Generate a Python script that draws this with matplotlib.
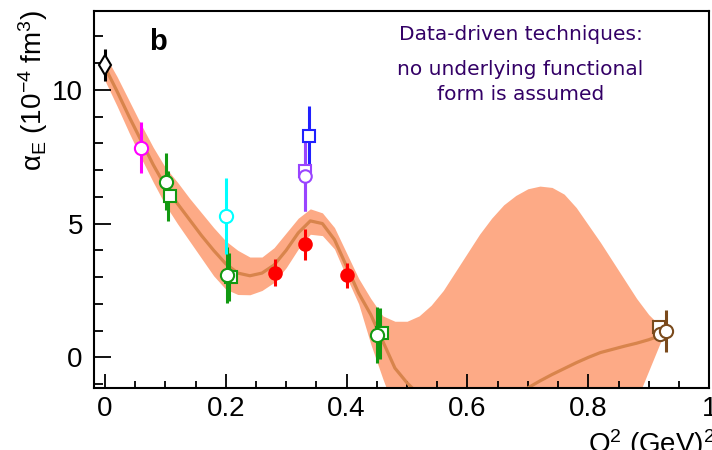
import numpy as np
from matplotlib import pyplot as plt
from matplotlib.ticker import MultipleLocator

plt.rcParams['font.family'] = ['Liberation Sans', 'DejaVu Sans']

# band + central curve
band_x = [0.00, 0.02, 0.04, 0.06, 0.08, 0.10, 0.12, 0.14, 0.16, 0.18,
          0.20, 0.22, 0.24, 0.26, 0.28, 0.30, 0.32, 0.34, 0.36, 0.38,
          0.40, 0.42, 0.44, 0.46, 0.48, 0.50, 0.52, 0.54, 0.56, 0.58,
          0.60, 0.62, 0.64, 0.66, 0.68, 0.70, 0.72, 0.74, 0.76, 0.78,
          0.80, 0.82, 0.84, 0.86, 0.88, 0.90, 0.92, 0.925]
band_hi = [11.3, 10.5, 9.6, 8.7, 7.85, 7.1, 6.55, 5.95, 5.4, 4.85,
           4.35, 4.0, 3.75, 3.75, 4.1, 4.65, 5.2, 5.55, 5.4, 4.85,
           3.9, 2.95, 2.2, 1.55, 1.35, 1.35, 1.55, 1.95, 2.5, 3.2,
           3.9, 4.6, 5.2, 5.7, 6.05, 6.3, 6.4, 6.35, 6.1, 5.6,
           4.95, 4.3, 3.6, 2.9, 2.2, 1.6, 1.15, 0.95]
band_lo = [10.35, 9.4, 8.4, 7.45, 6.55, 5.7, 5.0, 4.35, 3.7, 3.05,
           2.55, 2.35, 2.34, 2.5, 2.8, 3.35, 4.05, 4.6, 4.55, 4.05,
           3.0, 2.0, 0.5, -0.8, -2.0, -3.0, -3.5, -3.8, -4.0, -4.2,
           -4.3, -4.4, -4.4, -4.4, -4.4, -4.3, -4.2, -4.1, -4.0, -3.9,
           -3.8, -3.6, -3.4, -3.0, -1.6, -0.5, 0.6, 0.95]
central = [10.85, 9.95, 9.0, 8.1, 7.2, 6.4, 5.75, 5.15, 4.55, 4.0,
           3.5, 3.15, 3.05, 3.15, 3.45, 4.0, 4.65, 5.1, 5.0, 4.4,
           3.4, 2.4, 1.6, 0.6, -0.4, -0.95, -1.4, -1.8, -2.2, -2.45,
           -2.6, -2.6, -2.5, -2.2, -1.8, -1.14, -0.88, -0.64, -0.42, -0.2,
           0.0, 0.18, 0.3, 0.42, 0.53, 0.66, 0.82, 0.85]

# data points
dia_x, dia_y, dia_e = [0.0], [10.93], [0.6]
mag_x, mag_y, mag_e = [0.06], [7.84], [0.96]
grc_x, grc_y, grc_e = [0.102, 0.202, 0.451], [6.57, 3.08, 0.84], [1.07, 1.04, 1.05]
grs_x, grs_y, grs_e = [0.108, 0.209, 0.459], [6.04, 3.0, 0.9], [0.93, 0.9, 0.95]
cyan_x, cyan_y, cyan_e = [0.201], [5.29], [1.42]
red_x, red_y, red_e = [0.282, 0.332, 0.401], [3.17, 4.23, 3.06], [0.52, 0.58, 0.47]
pus_x, pus_y, pus_e = [0.331], [6.97], [1.5]
puc_x, puc_y, puc_e = [0.331], [6.78], [1.3]
blue_x, blue_y, blue_e = [0.338], [8.28], [1.1]
brs_x, brs_y = [0.917], [1.12]
brc_x, brc_y, brc_e = [0.918, 0.928], [0.87, 0.99], [0.0, 0.77]

fig = plt.figure(figsize=(7.12, 4.5), dpi=100)
ax = fig.add_axes([0.132, 0.138, 0.864, 0.838])

ax.fill_between(band_x, band_lo, band_hi, color='#fdaa86', lw=0, zorder=1)
ax.plot(band_x, central, color='#d8844c', lw=2.3, zorder=2)


def pts(x, y, e, color, marker, ms, fill='white', dx=0.0):
    ax.errorbar(np.array(x) + dx, y, yerr=e, fmt='none', ecolor=color,
                elinewidth=2.2, capsize=0, zorder=3)
    ax.plot(x, y, ls='none', marker=marker, ms=ms, mfc=fill, mec=color,
            mew=1.5, zorder=4)


pts(dia_x, dia_y, dia_e, 'black', 'd', 10)
pts(mag_x, mag_y, mag_e, '#ff00ff', 'o', 9.5)
pts(grs_x, grs_y, grs_e, '#119911', 's', 9, dx=-0.004)
pts(grc_x, grc_y, grc_e, '#119911', 'o', 9.5)
pts(cyan_x, cyan_y, cyan_e, '#00ffff', 'o', 9.5)
pts(red_x, red_y, red_e, '#ff0000', 'o', 9, fill='#ff0000')
pts(blue_x, blue_y, blue_e, '#2020ff', 's', 9)
pts(pus_x, pus_y, pus_e, '#9944ff', 's', 9)
pts(puc_x, puc_y, puc_e, '#9944ff', 'o', 9)
ax.plot(brs_x, brs_y, ls='none', marker='s', ms=9, mfc='white', mec='#7a4a1c', mew=1.5, zorder=4)
pts(brc_x, brc_y, brc_e, '#7a4a1c', 'o', 9.5)

ax.set_xlim(-0.018, 1.0)
ax.set_ylim(-1.14, 12.95)

ax.xaxis.set_major_locator(MultipleLocator(0.2))
ax.xaxis.set_minor_locator(MultipleLocator(0.05))
ax.yaxis.set_major_locator(MultipleLocator(5))
ax.yaxis.set_minor_locator(MultipleLocator(1))
ax.set_xticks([0, 0.2, 0.4, 0.6, 0.8, 1.0])
ax.set_xticklabels(['0', '0.2', '0.4', '0.6', '0.8', '1'])
ax.tick_params(axis='x', which='major', direction='in', length=10, width=1.3,
               labelsize=20, pad=6)
ax.tick_params(axis='x', which='minor', direction='in', length=5, width=1.3)
ax.tick_params(axis='y', which='major', direction='in', length=12, width=1.3,
               labelsize=20, pad=8)
ax.tick_params(axis='y', which='minor', direction='in', length=6.5, width=1.3)
for s in ax.spines.values():
    s.set_linewidth(1.5)

ax.text(0.088, 11.8, 'b', fontsize=21, fontweight='bold', ha='center', va='center')
txt = dict(fontsize=14.5, color='#330066', family='DejaVu Sans', ha='center', va='center')
ax.text(0.688, 12.06, 'Data-driven techniques:', **txt)
ax.text(0.688, 10.75, 'no underlying functional', **txt)
ax.text(0.688, 9.81, 'form is assumed', **txt)

fig.text(0.046, 0.978, r'$\mathregular{\alpha_E}$ (10$\mathregular{^{-4}}$ fm$\mathregular{^3}$)',
         rotation=90, ha='center', va='top', fontsize=20)
fig.text(1.005, 0.05, r'Q$\mathregular{^2}$ (GeV)$\mathregular{^2}$', ha='right', va='top',
         fontsize=20)

fig.savefig('out.png', dpi=100)
